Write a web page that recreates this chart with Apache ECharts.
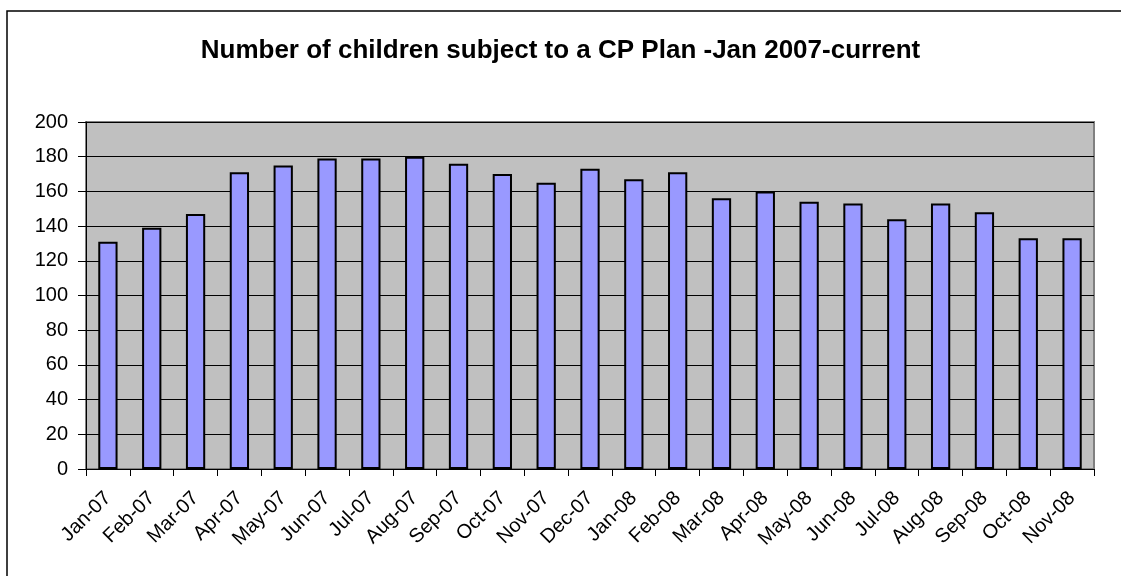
<!DOCTYPE html>
<html>
<head>
<meta charset="utf-8">
<script src="https://cdn.jsdelivr.net/npm/echarts@6/dist/echarts.min.js"></script>
<style>
  html, body { margin: 0; padding: 0; background: #fff; }
  #main { width: 1121px; height: 576px; }
</style>
</head>
<body>
<div id="main"></div>
<script>
// months shown on the x axis
const months = ['Jan-07', 'Feb-07', 'Mar-07', 'Apr-07', 'May-07', 'Jun-07', 'Jul-07', 'Aug-07',
  'Sep-07', 'Oct-07', 'Nov-07', 'Dec-07', 'Jan-08', 'Feb-08', 'Mar-08', 'Apr-08', 'May-08',
  'Jun-08', 'Jul-08', 'Aug-08', 'Sep-08', 'Oct-08', 'Nov-08']
// children subject to a CP plan
const children = [131, 139, 147, 171, 175, 179, 179, 180, 176, 170, 165, 173, 167, 171,
  156, 160, 154, 153, 144, 153, 148, 133, 133]

const font = '"Liberation Sans", Arial, sans-serif'
const chart = echarts.init(document.getElementById('main'))
const option = {
  animation: false,
  backgroundColor: '#fff',
  title: {
    text: 'Number of children subject to a CP Plan -Jan 2007-current',
    left: 'center',
    top: 33,
    textStyle: {
      fontFamily: font,
      fontWeight: 'bold',
      fontSize: 26,
      color: '#000'
    }
  },
  graphic: [
    {
      type: 'rect',
      shape: { x: 7, y: 11, width: 1200, height: 700 },
      style: { fill: 'none', stroke: '#000', lineWidth: 1.5 },
      silent: true
    }
  ],
  grid: {
    left: 86,
    right: 27,
    top: 122,
    bottom: 107,
    show: true,
    backgroundColor: '#c0c0c0',
    borderColor: '#808080',
    borderWidth: 2
  },
  xAxis: {
    type: 'category',
    data: months,
    axisLine: { lineStyle: { color: '#000', width: 1 } },
    axisTick: { show: true, length: 7, lineStyle: { color: '#000' } },
    axisLabel: {
      rotate: 45,
      margin: 26,
      fontFamily: font,
      fontSize: 20,
      color: '#000',
      interval: 0
    }
  },
  yAxis: {
    type: 'value',
    min: 0,
    max: 200,
    interval: 20,
    axisLine: { show: true, lineStyle: { color: '#000', width: 1 } },
    axisTick: { show: true, length: 8, lineStyle: { color: '#000' } },
    axisLabel: {
      margin: 18,
      fontFamily: font,
      fontSize: 20,
      color: '#000'
    },
    splitLine: { lineStyle: { color: '#000', width: 1 } }
  },
  series: [
    {
      type: 'bar',
      data: children,
      barWidth: '44%',
      itemStyle: {
        color: '#9999ff',
        borderColor: '#000',
        borderWidth: 2
      }
    }
  ]
}
chart.setOption(option)
</script>
</body>
</html>
